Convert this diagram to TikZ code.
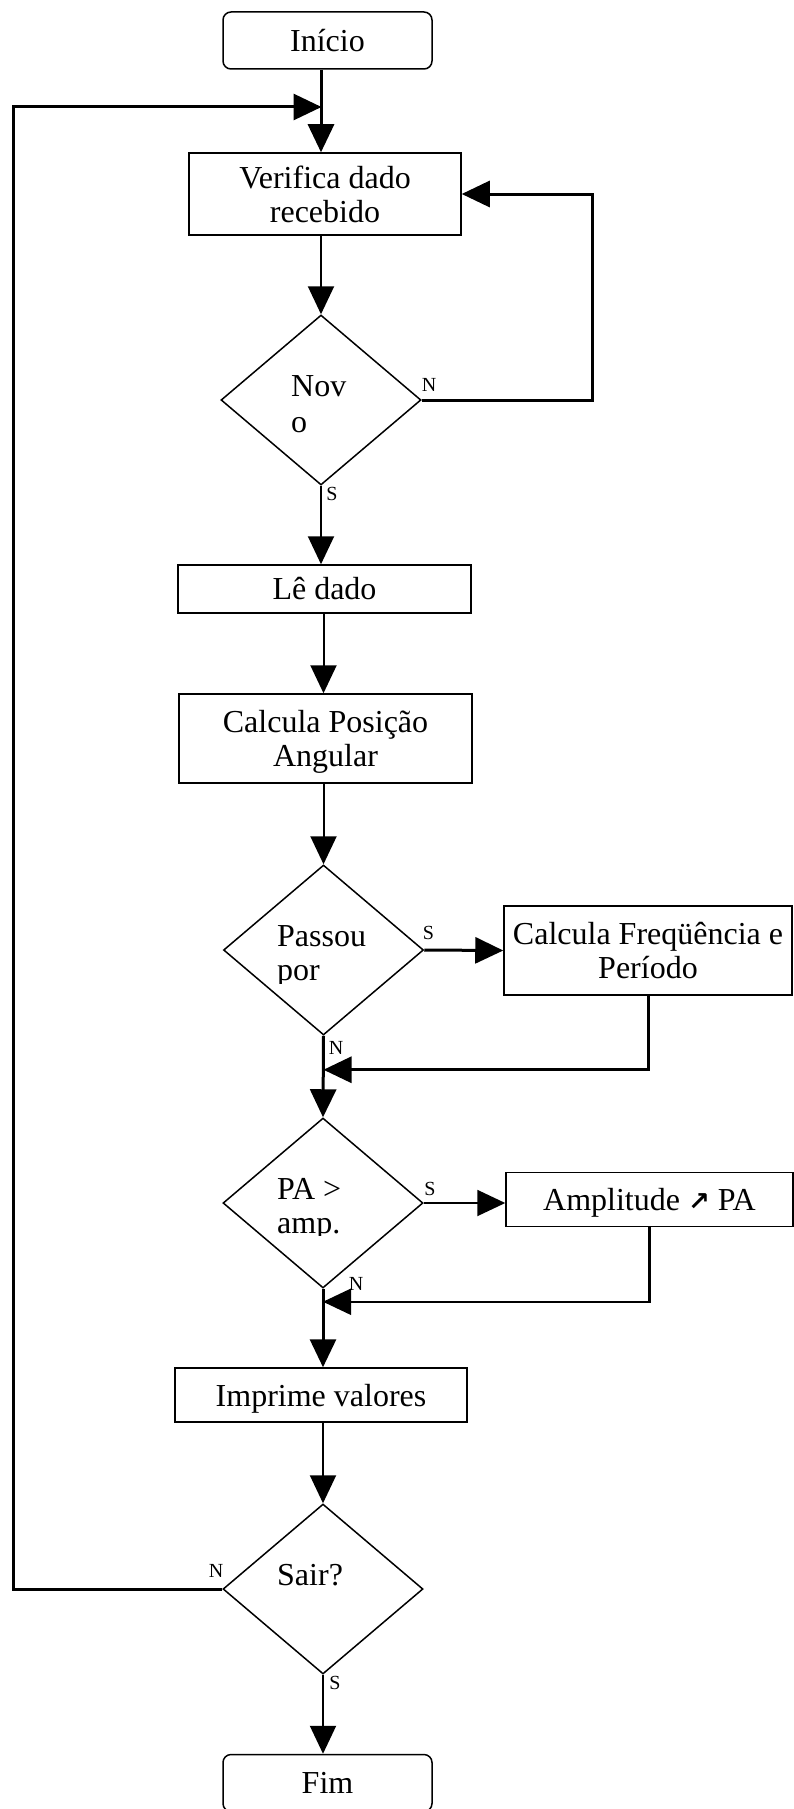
\documentclass[tikz,border=0pt]{standalone}
\usepackage{fontspec}
\setmainfont{Liberation Serif}
\newfontfamily\arrowfont{DejaVu Sans}
\usepackage{tikz}
\usetikzlibrary{shapes.geometric}
\usetikzlibrary{arrows.meta}
\usetikzlibrary{positioning}

\begin{document}
\begin{tikzpicture}[x=1pt,y=-1pt,
  every node/.style={font=\fontsize{32}{34}\selectfont,inner sep=0pt},
  box/.style={draw,line width=1.5pt,rectangle,align=center},
  terminal/.style={box,rounded corners=8pt,minimum width=209pt,minimum height=57pt},
  decision/.style={draw,line width=1.5pt,diamond,minimum width=200pt,minimum height=170pt},
  flow/.style={line width=2pt,-{Triangle[length=28pt,width=26pt]}},
  heavy/.style={flow,line width=3pt},
  lbl/.style={font=\fontsize{20}{20}\selectfont}]
\useasboundingbox (0,0) rectangle (794,1809);

\node[terminal] (inicio) at (327.5,40.5) {Início};
\node[box,minimum width=272pt,minimum height=82pt,text depth=-6pt] (verifica) at (325,194) {Verifica dado\\recebido};
\node[decision] (novo) at (321,400) {};
\node[anchor=base west,align=left] (novo-t) at (291,432) {Nov\\[2pt]o};
\node[box,minimum width=293pt,minimum height=48pt] (le) at (324.5,589) {Lê dado};
\node[box,minimum width=293pt,minimum height=89pt,text depth=0pt] (posicao) at (325.5,738.5) {Calcula Posição\\Angular};
\node[decision] (passou) at (323.5,950) {};
\begin{scope}
  \clip (260,900) rectangle (390,983);
  \node[anchor=base west,align=left] (passou-t) at (277,980) {Passou\\por};
\end{scope}
\node[box,minimum width=288pt,minimum height=89pt] (freq) at (648,950.5) {Calcula Freqüência e\\Período};
\node[decision] (maior) at (323,1203) {};
\begin{scope}
  \clip (260,1150) rectangle (390,1235);
  \node[anchor=base west,align=left] (maior-t) at (277,1233) {PA >\\amp.};
\end{scope}
\node[box,minimum width=287pt,minimum height=54pt,text depth=0pt] (amp) at (649.5,1199.5) {Amplitude {\arrowfont\fontsize{26}{26}\selectfont\bfseries ↗} PA};
\node[box,minimum width=292pt,minimum height=54pt,text depth=0pt] (imprime) at (321,1395) {Imprime valores};
\node[decision] (sair) at (323,1589) {};
\node[anchor=base west] (sair-t) at (277,1585) {Sair?};
\node[terminal] (fim) at (327.5,1783) {Fim};

% N / S labels
\node[lbl] (novo-n) at (429,385) {N};
\node[lbl] (novo-s) at (332,494) {S};
\node[lbl] (passou-s) at (428.5,933) {S};
\node[lbl] (passou-n) at (336,1048) {N};
\node[lbl] (maior-s) at (430,1189) {S};
\node[lbl] (maior-n) at (356,1284) {N};
\node[lbl] (sair-n) at (216,1571) {N};
\node[lbl] (sair-s) at (335,1683) {S};

\coordinate (merge) at (321.5,107);
\path (passou.south) ++(0,34) coordinate (join1);
\path (maior.south) ++(0,13) coordinate (join2);

\draw[heavy] (inicio.south -| novo) -- (verifica.north -| novo);
\draw[heavy] (sair.west) -- ++(-209,0) |- (merge);
\draw[flow] (verifica.south -| novo) -- (novo.north);
\draw[heavy] (novo.east) -- ++(171,0) |- (verifica.east);
\draw[flow] (novo.south) -- (novo.south |- le.north);
\draw[flow] (le.south -| passou) -- (posicao.north -| passou);
\draw[flow] (posicao.south -| passou) -- (passou.north);
\draw[heavy] (passou.east) -- (freq.west);
\draw[heavy] (freq.south) |- (join1);
\draw[heavy] (passou.south) -- (maior.north);
\draw[flow] (maior.east) -- (maior.east -| amp.west);
\draw[flow,line width=2.2pt] (amp.south) |- (join2);
\draw[heavy] (maior.south) -- (maior.south |- imprime.north);
\draw[flow] (imprime.south -| sair) -- (sair.north);
\draw[flow] (sair.south) -- (sair.south |- fim.north);
\end{tikzpicture}
\end{document}
